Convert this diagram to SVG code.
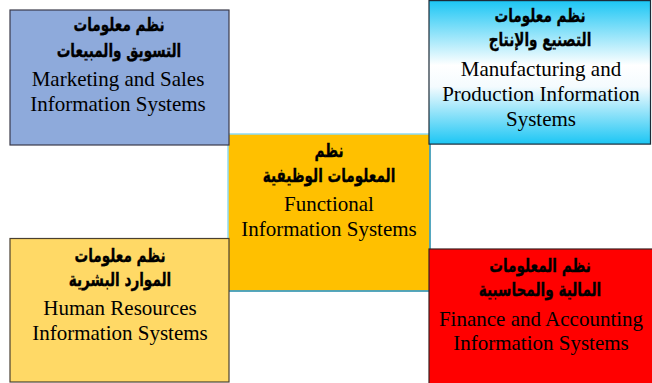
<svg xmlns="http://www.w3.org/2000/svg" width="652" height="383" viewBox="0 0 652 383">
<defs>
<linearGradient id="cyanGrad" x1="0" y1="0" x2="0" y2="1">
<stop offset="0" stop-color="#1cc6f4"/>
<stop offset="0.45" stop-color="#ffffff"/>
<stop offset="0.6" stop-color="#f4fbfe"/>
<stop offset="1" stop-color="#1cc6f4"/>
</linearGradient>
<style>
.ar{font-family:"DejaVu Sans",sans-serif;font-weight:bold;font-size:17px;fill:#000;text-anchor:middle;stroke:#000;stroke-width:0.3}
.en{font-family:"Liberation Serif","Times New Roman",serif;font-size:21px;fill:#000;text-anchor:middle}
.box{stroke-width:1.2}
</style>
</defs>
<rect width="652" height="383" fill="#ffffff"/>
<g id="connectors"></g>
<g id="center">
<rect x="228" y="134" width="202" height="157" fill="#ffc000" stroke="#8fdcf5" stroke-width="1.5"/>
<path d="M228.5 291 H430 V134" fill="none" stroke="#3a93ad" stroke-width="1.5"/>
<text class="ar" transform="translate(329,157) scale(0.8,1.12)">نظم</text>
<text class="ar" transform="translate(329,182) scale(0.8,1.12)">المعلومات الوظيفية</text>
<text class="en" x="329" y="211">Functional</text>
<text class="en" x="329" y="236">Information Systems</text>
</g>
<g id="marketing">
<rect class="box" x="10" y="10" width="219" height="135" fill="#8eaadb" stroke="#3a3a4a"/>
<text class="ar" transform="translate(119,31) scale(0.8,1.12)">نظم معلومات</text>
<text class="ar" transform="translate(119,57) scale(0.8,1.12)">التسويق والمبيعات</text>
<text class="en" x="118" y="86">Marketing and Sales</text>
<text class="en" x="118" y="111">Information Systems</text>
</g>
<g id="manufacturing">
<rect class="box" x="429" y="0.6" width="221.5" height="143.5" fill="url(#cyanGrad)" stroke="#1d2b38"/>
<text class="ar" transform="translate(540,22) scale(0.8,1.12)">نظم معلومات</text>
<text class="ar" transform="translate(540,46) scale(0.8,1.12)">التصنيع والإنتاج</text>
<text class="en" x="541" y="76">Manufacturing and</text>
<text class="en" x="541" y="101">Production Information</text>
<text class="en" x="541" y="126">Systems</text>
</g>
<g id="hr">
<rect class="box" x="10" y="238.5" width="219" height="143.5" fill="#ffd966" stroke="#4a4030"/>
<text class="ar" transform="translate(120,262) scale(0.8,1.12)">نظم معلومات</text>
<text class="ar" transform="translate(120,286) scale(0.8,1.12)">الموارد البشرية</text>
<text class="en" x="120" y="315">Human Resources</text>
<text class="en" x="120" y="340">Information Systems</text>
</g>
<g id="finance">
<rect class="box" x="429" y="249" width="224" height="140" fill="#ff0000" stroke="#3a2020"/>
<text class="ar" transform="translate(540,272) scale(0.8,1.12)">نظم المعلومات</text>
<text class="ar" transform="translate(540,296) scale(0.8,1.12)">المالية والمحاسبية</text>
<text class="en" x="541" y="326">Finance and Accounting</text>
<text class="en" x="541" y="350">Information Systems</text>
</g>
</svg>
